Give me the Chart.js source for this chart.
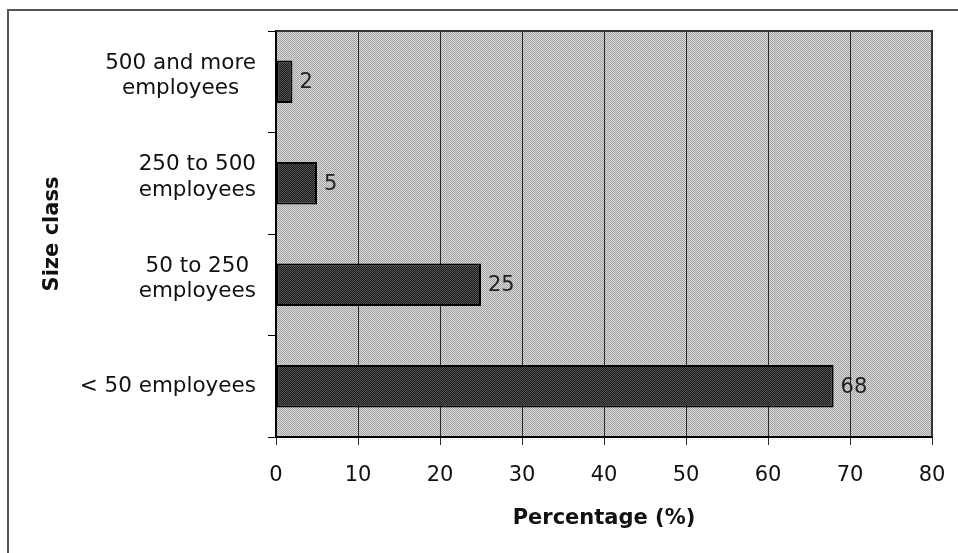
<!DOCTYPE html>
<html>
<head>
<meta charset="utf-8">
<script src="https://cdn.jsdelivr.net/npm/chart.js@4/dist/chart.umd.min.js"></script>
<style>
  html, body { margin: 0; padding: 0; background: #fff; }
  #wrap { position: relative; width: 958px; height: 553px; }
</style>
</head>
<body>
<div id="wrap"><canvas id="c" width="958" height="553"></canvas></div>
<script>
// ---- data ----
const categories = [
  ["500 and more", "employees"],
  ["250 to 500", "employees"],
  ["50 to 250", "employees"],
  ["< 50 employees"]
];
const values = [2, 5, 25, 68];
const xTicks = [0, 10, 20, 30, 40, 50, 60, 70, 80];
const xTitle = "Percentage (%)";
const yTitle = "Size class";

const FONT = "'DejaVu Sans', sans-serif";

function makePattern(c1, c2) {
  const p = document.createElement('canvas');
  p.width = 2; p.height = 2;
  const g = p.getContext('2d');
  g.fillStyle = c1; g.fillRect(0, 0, 2, 2);
  g.fillStyle = c2; g.fillRect(0, 0, 1, 1); g.fillRect(1, 1, 1, 1);
  return g.createPattern(p, 'repeat');
}
const bgPattern = makePattern('#dadada', '#a2a2a2');
const barPattern = makePattern('#1a1a1a', '#555555');

const decor = {
  id: 'decor',
  beforeDraw(chart) {
    const {ctx, chartArea: a} = chart;
    ctx.save();
    ctx.fillStyle = bgPattern;
    ctx.fillRect(a.left, a.top, a.right - a.left, a.bottom - a.top);
    ctx.strokeStyle = '#555';
    ctx.lineWidth = 2;
    ctx.beginPath();
    ctx.moveTo(8, 553); ctx.lineTo(8, 10); ctx.lineTo(958, 10);
    ctx.stroke();
    ctx.restore();
  },
  afterDraw(chart) {
    const {ctx, chartArea: a} = chart;
    ctx.save();
    ctx.strokeStyle = '#333';
    ctx.lineWidth = 2;
    ctx.beginPath();
    ctx.moveTo(a.left, a.top); ctx.lineTo(a.right, a.top); ctx.lineTo(a.right, a.bottom);
    ctx.stroke();
    // y category labels: block right-aligned, lines centred in block
    const y = chart.scales.y;
    ctx.font = "21.5px " + FONT;
    ctx.fillStyle = '#111';
    ctx.textAlign = 'center';
    ctx.textBaseline = 'middle';
    const lh = 25.5;
    const rightEdge = 256;
    categories.forEach((lab, i) => {
      const lines = Array.isArray(lab) ? lab : [lab];
      const w = Math.max(...lines.map(l => ctx.measureText(l).width));
      const cx = rightEdge - w / 2;
      const cy = y.getPixelForTick(i) - (lines.length > 1 ? 6 : 0);
      const y0 = cy - (lines.length - 1) * lh / 2;
      lines.forEach((l, k) => ctx.fillText(l, cx, y0 + k * lh));
    });
    // data labels
    const meta = chart.getDatasetMeta(0);
    ctx.font = "21px " + FONT;
    ctx.textAlign = 'left';
    ctx.fillStyle = '#222';
    meta.data.forEach((bar, i) => {
      ctx.fillText(String(values[i]), bar.x + 7, bar.y + 1);
    });
    ctx.restore();
  }
};

new Chart(document.getElementById('c'), {
  type: 'bar',
  data: {
    labels: categories,
    datasets: [{
      data: values,
      backgroundColor: barPattern,
      borderColor: '#000',
      borderWidth: 2,
      borderSkipped: false,
      categoryPercentage: 1,
      barPercentage: 0.42
    }]
  },
  options: {
    indexAxis: 'y',
    responsive: false,
    animation: false,
    devicePixelRatio: 1,
    layout: { padding: { top: 31, right: 26, left: 0, bottom: 0 } },
    plugins: { legend: { display: false }, tooltip: { enabled: false } },
    scales: {
      x: {
        type: 'linear',
        min: 0, max: 80,
        afterBuildTicks(s) { s.ticks = xTicks.map(v => ({ value: v })); },
        afterFit(s) { s.height = 116; s.paddingRight = 14; s.paddingLeft = 0; },
        ticks: { font: { family: FONT, size: 21 }, color: '#111', padding: 18 },
        grid: { color: '#2a2a2a', lineWidth: 1, tickLength: 8, drawTicks: true },
        border: { display: true, color: '#000', width: 2 },
        title: { display: true, text: xTitle, color: '#111',
                 font: { family: FONT, size: 21, weight: 'bold' },
                 padding: { top: 0, bottom: 22 } }
      },
      y: {
        type: 'category',
        afterFit(s) { s.width = 276; },
        ticks: { display: true, color: 'rgba(0,0,0,0)', font: { family: FONT, size: 21 } },
        grid: { offset: true, drawOnChartArea: false, drawTicks: true, tickLength: 8, color: '#000' },
        border: { display: true, color: '#000', width: 2 },
        title: { display: true, text: yTitle, color: '#111',
                 font: { family: FONT, size: 21, weight: 'bold' },
                 padding: { top: 40, bottom: 0 } }
      }
    }
  },
  plugins: [decor]
});
</script>
</body>
</html>
